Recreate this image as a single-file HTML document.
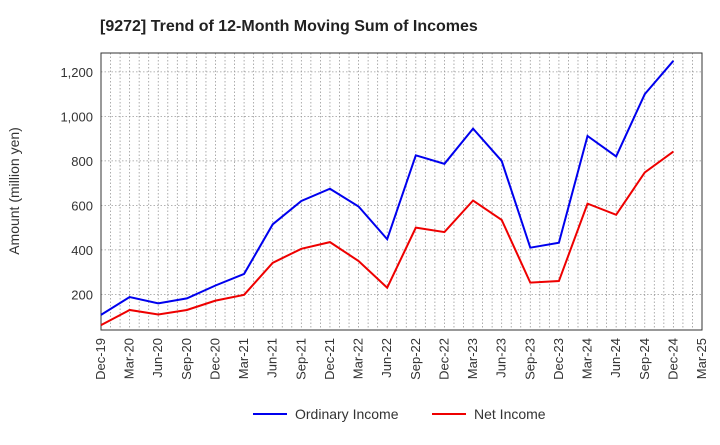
<!DOCTYPE html>
<html><head><meta charset="utf-8"><style>
body{margin:0;background:#fff;font-family:"Liberation Sans",sans-serif;}
</style></head><body>
<svg width="720" height="440" xmlns="http://www.w3.org/2000/svg" id="chart" font-family="Liberation Sans, sans-serif">
<text x="100" y="31" font-size="16" font-weight="bold" fill="#222">[9272]  Trend of 12-Month Moving Sum of Incomes</text>
<g id="grid"></g>
<g id="axes"></g>
<g id="series"></g>
<text transform="translate(19,191) rotate(-90)" text-anchor="middle" font-size="14" fill="#333">Amount (million yen)</text>
<g>
<g><line x1="253" y1="414" x2="287" y2="414" stroke="#0000ee" stroke-width="2"/><text x="295" y="419" font-size="14" fill="#333">Ordinary Income</text></g>
<g><line x1="432" y1="414" x2="466" y2="414" stroke="#ee0000" stroke-width="2"/><text x="474" y="419" font-size="14" fill="#333">Net Income</text></g>
</g>
</svg>
<script>
const categories=["Dec-19","Mar-20","Jun-20","Sep-20","Dec-20","Mar-21","Jun-21","Sep-21","Dec-21","Mar-22","Jun-22","Sep-22","Dec-22","Mar-23","Jun-23","Sep-23","Dec-23","Mar-24","Jun-24","Sep-24","Dec-24","Mar-25"];
const ordinaryIncome=[108,188,160,182,240,292,515,620,675,595,448,825,787,945,800,410,432,912,820,1100,1250];
const netIncome=[62,130,110,130,172,198,342,405,435,350,230,500,480,622,535,253,260,608,558,748,842];
const yTicks=[200,400,600,800,1000,1200];
const NS="http://www.w3.org/2000/svg";
const L=101,R=702,T=53,B=330,yMin=40,yMax=1285;
const xs=i=>L+(R-L)*i/(categories.length-1);
const ys=v=>B-(v-yMin)/(yMax-yMin)*(B-T);
function mk(tag,attrs,parent){const e=document.createElementNS(NS,tag);for(const k in attrs)e.setAttribute(k,attrs[k]);parent.appendChild(e);return e;}
const grid=document.getElementById('grid'),axes=document.getElementById('axes'),series=document.getElementById('series');
const nMonths=(categories.length-1)*3;
for(let m=1;m<nMonths;m++){const x=L+(R-L)*m/nMonths;const g=mk('line',{x1:x,x2:x,y1:T,y2:B,stroke:'#999','stroke-width':0.8,'stroke-dasharray':'1.5,2'},grid);

}
yTicks.forEach(v=>{const y=ys(v);const g=mk('line',{x1:L,x2:R,y1:y,y2:y,stroke:'#999','stroke-width':0.8,'stroke-dasharray':'1.5,2'},grid);


const t=mk('text',{x:L-8,y:y+5,'text-anchor':'end','font-size':13,fill:'#333'},axes);t.textContent=v.toLocaleString('en-US');

});
const fr=mk('rect',{x:L,y:T,width:R-L,height:B-T,fill:'none',stroke:'#333','stroke-width':1},axes);


categories.forEach((c,i)=>{const x=xs(i);const t=mk('text',{transform:`translate(${x+4},${B+8}) rotate(-90)`,'text-anchor':'end','font-size':13,fill:'#333'},axes);t.textContent=c;

});
function line(vals,color,name){const p=mk('polyline',{points:vals.map((v,i)=>xs(i)+','+ys(v)).join(' '),fill:'none',stroke:color,'stroke-width':2},series);

}
line(ordinaryIncome,'#0000ee','ordinary-income-line');
line(netIncome,'#ee0000','net-income-line');
</script>
</body></html>
